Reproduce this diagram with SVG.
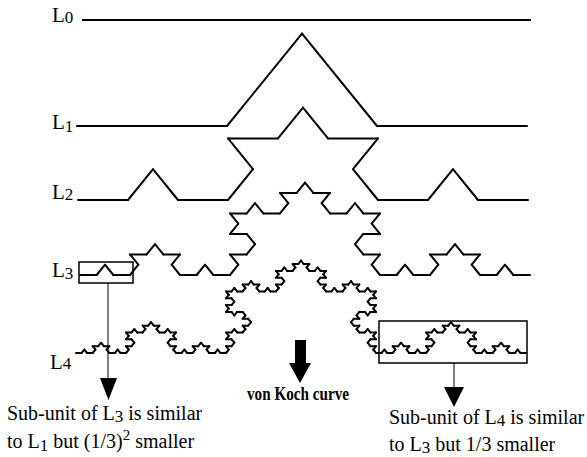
<svg xmlns="http://www.w3.org/2000/svg" width="587" height="457" viewBox="0 0 587 457">
<style>
.seg{fill:none;stroke:#000;stroke-width:2;stroke-linecap:round;vector-effect:non-scaling-stroke}
.line{fill:none;stroke:#000;stroke-width:2}
.box{fill:none;stroke:#000;stroke-width:1.5}
.thin{fill:none;stroke:#000;stroke-width:1}
.head{fill:#000;stroke:none}
text{fill:#000}
</style>
<defs>
<path id="k0" class="seg" d="M0,0H1"/>
<g id="k1">
<use href="#k0" transform="scale(0.333333)"/>
<use href="#k0" transform="translate(0.333333,0) rotate(-60) scale(0.333333)"/>
<use href="#k0" transform="translate(0.5,-0.288675) rotate(60) scale(0.333333)"/>
<use href="#k0" transform="translate(0.666667,0) scale(0.333333)"/>
</g>
<g id="k2">
<use href="#k1" transform="scale(0.333333)"/>
<use href="#k1" transform="translate(0.333333,0) rotate(-60) scale(0.333333)"/>
<use href="#k1" transform="translate(0.5,-0.288675) rotate(60) scale(0.333333)"/>
<use href="#k1" transform="translate(0.666667,0) scale(0.333333)"/>
</g>
<g id="k3">
<use href="#k2" transform="scale(0.333333)"/>
<use href="#k2" transform="translate(0.333333,0) rotate(-60) scale(0.333333)"/>
<use href="#k2" transform="translate(0.5,-0.288675) rotate(60) scale(0.333333)"/>
<use href="#k2" transform="translate(0.666667,0) scale(0.333333)"/>
</g>
<g id="k4">
<use href="#k3" transform="scale(0.333333)"/>
<use href="#k3" transform="translate(0.333333,0) rotate(-60) scale(0.333333)"/>
<use href="#k3" transform="translate(0.5,-0.288675) rotate(60) scale(0.333333)"/>
<use href="#k3" transform="translate(0.666667,0) scale(0.333333)"/>
</g>
</defs>
<rect width="587" height="457" fill="#fff"/>

<g font-family="Liberation Serif, Times New Roman, serif" font-size="21">
<g id="level0">
<line class="line" x1="82" y1="20" x2="531" y2="20"/>
<text x="52" y="22">L<tspan font-size="17" dy="1">0</tspan></text>
</g>
<g id="level1">
<use href="#k1" transform="translate(77,126) scale(450,320)"/>
<text x="52" y="129">L<tspan font-size="17" dy="3">1</tspan></text>
</g>
<g id="level2">
<use href="#k2" transform="translate(78,200) scale(450,320)"/>
<text x="52" y="199">L<tspan font-size="17" dy="1">2</tspan></text>
</g>
<g id="level3">
<use href="#k3" transform="translate(80,275) scale(450,320)"/>
<text x="52" y="277">L<tspan font-size="17" dy="2">3</tspan></text>
</g>
<g id="level4">
<use href="#k4" transform="translate(76,353) scale(450,320)"/>
<text x="50" y="369">L<tspan font-size="17">4</tspan></text>
</g>
</g>

<g id="box3">
<rect class="box" x="79" y="262" width="54" height="21"/>
</g>
<g id="box4">
<rect class="box" x="379" y="321" width="148" height="42"/>
</g>

<g id="connectors">
<line class="thin" x1="108" y1="283" x2="108" y2="380"/>
<polygon class="head" points="100,378 117,378 108.5,400"/>
<line class="thin" x1="454" y1="363" x2="454" y2="389"/>
<polygon class="head" points="444,387 464,387 454,407"/>
<rect class="head" x="295" y="340" width="11" height="24"/>
<polygon class="head" points="289,363 311,363 300,383"/>
</g>

<g id="captions" font-family="Liberation Serif, Times New Roman, serif" font-size="20">
<text x="247" y="400" font-size="18" font-weight="bold" textLength="102" lengthAdjust="spacingAndGlyphs">von Koch curve</text>
<text x="7" y="420">Sub-unit of L<tspan font-size="17" dy="2">3</tspan><tspan dy="-2"> is similar</tspan></text>
<text x="7" y="448">to L<tspan font-size="17" dy="3">1</tspan><tspan dy="-3"> but (1/3)</tspan><tspan font-size="15" dy="-8">2</tspan><tspan dy="8"> smaller</tspan></text>
<text x="389" y="424">Sub-unit of L<tspan font-size="17" dy="2">4</tspan><tspan dy="-2"> is similar</tspan></text>
<text x="389" y="451">to L<tspan font-size="17" dy="2">3</tspan><tspan dy="-2"> but 1/3 smaller</tspan></text>
</g>
</svg>
